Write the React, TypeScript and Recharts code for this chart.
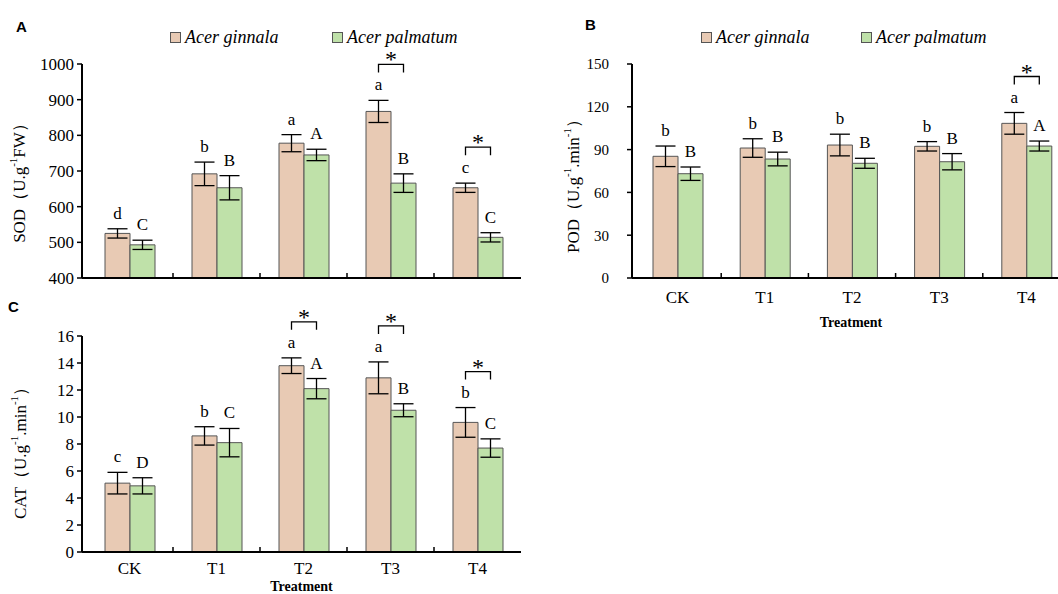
import React from "react";
import { BarChart, Bar, XAxis, YAxis, ErrorBar, LabelList } from "recharts";

const categories = ["CK", "T1", "T2", "T3", "T4"];
const species = ["Acer ginnala", "Acer palmatum"];
const colors = ["#E8CAB4", "#BFE1A9"];

// SOD
const sodGinnala = [525, 692, 778, 867, 653];
const sodGinnalaErr = [13, 33, 24, 31, 13];
const sodPalmatum = [493, 653, 745, 666, 514];
const sodPalmatumErr = [13, 34, 16, 26, 13];
const sodGinnalaLetters = ["d", "b", "a", "a", "c"];
const sodPalmatumLetters = ["C", "B", "A", "B", "C"];
const sodSig = [false, false, false, true, true];
const sodTicks = [400, 500, 600, 700, 800, 900, 1000];

// POD
const podGinnala = [85.3, 91.1, 93.2, 92.3, 108.4];
const podGinnalaErr = [7.2, 6.5, 7.6, 3.3, 7.6];
const podPalmatum = [73.1, 83.4, 80.4, 81.5, 92.5];
const podPalmatumErr = [4.7, 4.8, 3.5, 5.7, 3.5];
const podGinnalaLetters = ["b", "b", "b", "b", "a"];
const podPalmatumLetters = ["B", "B", "B", "B", "A"];
const podSig = [false, false, false, false, true];
const podTicks = [0, 30, 60, 90, 120, 150];

// CAT
const catGinnala = [5.1, 8.6, 13.8, 12.9, 9.6];
const catGinnalaErr = [0.8, 0.68, 0.58, 1.18, 1.1];
const catPalmatum = [4.9, 8.1, 12.1, 10.5, 7.7];
const catPalmatumErr = [0.6, 1.05, 0.75, 0.48, 0.68];
const catGinnalaLetters = ["c", "b", "a", "a", "b"];
const catPalmatumLetters = ["D", "C", "A", "B", "C"];
const catSig = [false, false, true, true, true];
const catTicks = [0, 2, 4, 6, 8, 10, 12, 14, 16];

const serif = '"Liberation Serif", "Times New Roman", serif';
const sans = '"Liberation Sans", Arial, sans-serif';

const buildRows = (
  g: number[], gErr: number[], p: number[], pErr: number[],
  gL: string[], pL: string[], sig: boolean[]
) =>
  categories.map((name, i) => ({
    name, g: g[i], gErr: gErr[i], p: p[i], pErr: pErr[i], gL: gL[i], pL: pL[i], sig: sig[i],
  }));

const sodRows = buildRows(sodGinnala, sodGinnalaErr, sodPalmatum, sodPalmatumErr, sodGinnalaLetters, sodPalmatumLetters, sodSig);
const podRows = buildRows(podGinnala, podGinnalaErr, podPalmatum, podPalmatumErr, podGinnalaLetters, podPalmatumLetters, podSig);
const catRows = buildRows(catGinnala, catGinnalaErr, catPalmatum, catPalmatumErr, catGinnalaLetters, catPalmatumLetters, catSig);

function letterContent(rows: any[], valKey: string, errKey: string, letterKey: string, min: number, bracket: boolean) {
  return (props: any) => {
    const { x, y, width, height, index } = props;
    const row = rows[index];
    if (!row) return null;
    const k = height / (row[valKey] - min);
    const errTop = y - row[errKey] * k;
    const cx = x + width / 2;
    const top = errTop - 36;
    return (
      <g>
        <text x={cx} y={errTop - 10} textAnchor='middle' fontFamily={serif} fontSize={17} fill='#000'>
          {row[letterKey]}
        </text>
        {bracket && row.sig && (
          <g>
            <path d={`M${cx},${top + 8}V${top}H${cx + width}V${top + 8}`} stroke='#000' strokeWidth={1.3} fill='none' />
            <text x={cx + width / 2} y={top + 3} textAnchor='middle' fontFamily={serif} fontSize={24} fill='#000'>
              *
            </text>
          </g>
        )}
      </g>
    );
  };
}

const makeXTick = (band: number, showLabel: boolean, labelDy: number) => (props: any) => {
  const { x, y, payload, index } = props;
  return (
    <g>
      {index > 0 && <line x1={x - band / 2} x2={x - band / 2} y1={y} y2={y - 5} stroke='#000' strokeWidth={1.5} />}
      {showLabel && (
        <text x={x} y={y + labelDy} textAnchor='middle' fontFamily={serif} fontSize={17} fill='#000'>
          {payload.value}
        </text>
      )}
    </g>
  );
};

type PanelProps = {
  rows: any[];
  domain: [number, number];
  ticks: number[];
  width: number;
  height: number;
  top: number;
  right: number;
  yWidth: number;
  xHeight: number;
  padLeft: number;
  showX: boolean;
  labelDy: number;
  titleDy: number;
  titleDx: number;
  tickFont: number;
  tickMargin: number;
  yLabel: React.ReactNode;
  yLabelX: number;
  yLabelY: number;
};

function Panel(p: PanelProps) {
  const band = (p.width - p.right - p.yWidth - p.padLeft) / categories.length;
  return (
    <BarChart
      width={p.width}
      height={p.height}
      data={p.rows}
      margin={{ top: p.top, right: p.right, bottom: 0, left: 0 }}
      barSize={25}
      barGap={0}>
      <XAxis
        dataKey='name'
        height={p.xHeight}
        interval={0}
        padding={{ left: p.padLeft, right: 0 }}
        tickLine={false}
        tickSize={0}
        tickMargin={0}
        axisLine={{ stroke: "#000", strokeWidth: 2 }}
        tick={makeXTick(band, p.showX, p.labelDy)}
        label={
          p.showX
            ? {
                content: (lp: any) => {
                  const vb = lp.viewBox || {};
                  return (
                    <text
                      x={vb.x + vb.width / 2 + p.titleDx}
                      y={vb.y + p.titleDy}
                      textAnchor='middle'
                      fontFamily={serif}
                      fontWeight='bold'
                      fontSize={14}
                      fill='#000'>
                      Treatment
                    </text>
                  );
                },
              }
            : undefined
        }
      />
      <YAxis
        width={p.yWidth}
        domain={p.domain}
        ticks={p.ticks}
        interval={0}
        allowDataOverflow
        tickSize={5}
        tickMargin={p.tickMargin}
        axisLine={{ stroke: "#000", strokeWidth: 2 }}
        tickLine={{ stroke: "#000", strokeWidth: 1.5 }}
        tick={{ fill: "#000", fontFamily: serif, fontSize: p.tickFont }}
        label={{
          content: () => (
            <text
              transform={`translate(${p.yLabelX},${p.yLabelY}) rotate(-90)`}
              textAnchor='middle'
              dominantBaseline='central'
              fontFamily={serif}
              fontSize={17}
              fill='#000'>
              {p.yLabel}
            </text>
          ),
        }}
      />
      <Bar dataKey='g' name={species[0]} fill={colors[0]} stroke='#555' strokeWidth={1} isAnimationActive={false}>
        <ErrorBar dataKey='gErr' width={10} stroke='#000' strokeWidth={1.3} />
        <LabelList dataKey='g' content={letterContent(p.rows, "g", "gErr", "gL", p.domain[0], true)} />
      </Bar>
      <Bar dataKey='p' name={species[1]} fill={colors[1]} stroke='#555' strokeWidth={1} isAnimationActive={false}>
        <ErrorBar dataKey='pErr' width={10} stroke='#000' strokeWidth={1.3} />
        <LabelList dataKey='p' content={letterContent(p.rows, "p", "pErr", "pL", p.domain[0], false)} />
      </Bar>
    </BarChart>
  );
}

function LegendRow({ left, gap, top }: { left: number; gap: number; top: number }) {
  return (
    <>
      {species.map((s, i) => (
        <div key={s} style={{ position: "absolute", left: left + i * gap, top, display: "flex", alignItems: "center" }}>
          <div style={{ width: 9, height: 9, background: colors[i], border: "1px solid #555", marginRight: 4 }} />
          <span style={{ fontFamily: serif, fontStyle: "italic", fontSize: 18, lineHeight: "16px", color: "#000" }}>{s}</span>
        </div>
      ))}
    </>
  );
}

const panelLetter = (t: string, left: number, top: number) => (
  <div style={{ position: "absolute", left, top, fontFamily: sans, fontWeight: "bold", fontSize: 15, lineHeight: "15px" }}>{t}</div>
);

export default function App() {
  const sup = (v: string) => (
    <tspan dy={-6} fontSize={11}>
      {v}
    </tspan>
  );
  return (
    <div style={{ position: "absolute", left: 0, top: 0, width: 1058, height: 594, overflow: "hidden", background: "#fff" }}>
      <div style={{ position: "absolute", left: 0, top: 0 }}>
        <Panel
          rows={sodRows}
          domain={[400, 1000]}
          ticks={sodTicks}
          width={530}
          height={300}
          top={64}
          right={9}
          yWidth={82}
          xHeight={22}
          padLeft={4}
          showX={false}
          labelDy={0}
          titleDy={0}
          titleDx={0}
          tickFont={17}
          tickMargin={3}
          yLabelX={19}
          yLabelY={179}
          yLabel={
            <>
              <tspan>SOD（U.g</tspan>
              {sup("-1")}
              <tspan dy={6}>FW）</tspan>
            </>
          }
        />
      </div>
      <div style={{ position: "absolute", left: 520, top: 0 }}>
        <Panel
          rows={podRows}
          domain={[0, 150]}
          ticks={podTicks}
          width={560}
          height={340}
          top={64}
          right={10}
          yWidth={112}
          xHeight={62}
          padLeft={2}
          showX={true}
          labelDy={25}
          titleDy={49}
          titleDx={0}
          tickFont={15}
          tickMargin={18}
          yLabelX={53}
          yLabelY={182}
          yLabel={
            <>
              <tspan>POD（U.g</tspan>
              {sup("-1")}
              <tspan dy={6}>.min</tspan>
              {sup("-1")}
              <tspan dy={6}>）</tspan>
            </>
          }
        />
      </div>
      <div style={{ position: "absolute", left: 0, top: 290 }}>
        <Panel
          rows={catRows}
          domain={[0, 16]}
          ticks={catTicks}
          width={530}
          height={304}
          top={46}
          right={9}
          yWidth={82}
          xHeight={42}
          padLeft={4}
          showX={true}
          labelDy={22}
          titleDy={39}
          titleDx={0}
          tickFont={17}
          tickMargin={3}
          yLabelX={20}
          yLabelY={159}
          yLabel={
            <>
              <tspan>CAT（U.g</tspan>
              {sup("-1")}
              <tspan dy={6}>.min</tspan>
              {sup("-1")}
              <tspan dy={6}>）</tspan>
            </>
          }
        />
      </div>
      <LegendRow left={170} gap={162} top={29} />
      <LegendRow left={701} gap={160} top={29} />
      {panelLetter("A", 16, 19)}
      {panelLetter("B", 585, 17)}
      {panelLetter("C", 8, 299)}
    </div>
  );
}
